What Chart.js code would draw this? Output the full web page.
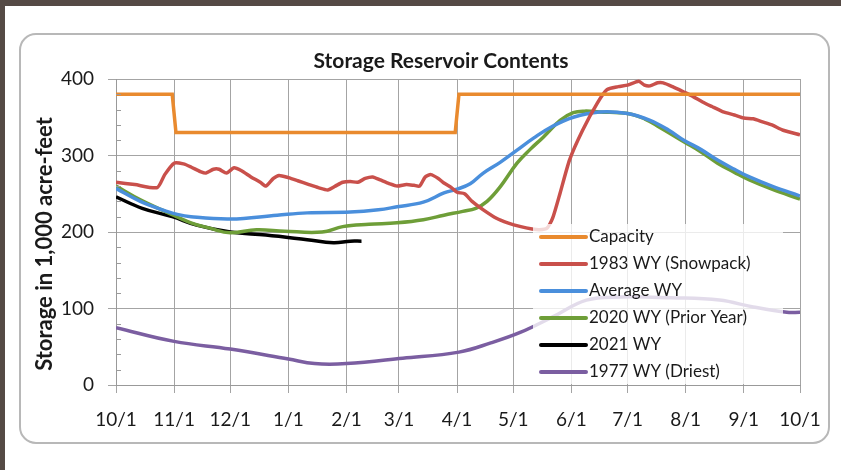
<!DOCTYPE html>
<html>
<head>
<meta charset="utf-8">
<script src="https://cdn.jsdelivr.net/npm/chart.js@4/dist/chart.umd.min.js"></script>
<style>
body{margin:0;background:#554a45;}
#wrap{position:absolute;left:0;top:0;width:841px;height:470px;}
</style>
</head>
<body>
<div id="wrap"><canvas id="grafico" width="841" height="470"></canvas></div>
<script>
// x values are days since 10/1
const monthDays = [0,31,61,92,123,151,182,212,243,273,304,335,365];
const monthLabels = ["10/1","11/1","12/1","1/1","2/1","3/1","4/1","5/1","6/1","7/1","8/1","9/1","10/1"];

const capDays = [0,30,32,181,183,365];
const capVals = [380,380,330,330,380,380];

const snowDays = [0,10,22,26,31,36,40,45,48,52,55,59,63,67,72,77,80,84,87,92,97,103,108,113,117,121,125,129,133,137,141,146,150,155,159,162,165,168,172,175,179,182,186,190,196,203,209,216,222,226,230,233,237,242,249,257,262,268,273,279,282,285,289,292,297,303,308,313,318,324,330,335,340,345,350,356,365];
const snowVals = [265,262,258,275,290,289,285,279,277,282,282,277,284,280,272,265,260,270,274,271,267,262,258,255,260,265,266,265,270,272,268,263,260,262,261,260,272,275,270,264,258,252,250,240,229,218,212,207,204,203,205,218,251,294,333,369,386,390,392,397,392,391,395,395,390,383,377,370,364,357,353,349,348,344,340,333,327];

const avgDays = [0,13,27,31,40,61,86,102,125,140,150,164,175,182,189,196,205,214,223,232,244,258,273,285,295,303,312,321,330,338,350,365];
const avgVals = [257,240,227,224,220,217,222,225,226,229,233,239,251,256,263,277,291,307,323,337,350,357,355,346,333,320,308,294,282,272,260,247];

const priorDays = [0,13,27,40,50,61,75,90,110,121,135,150,164,175,185,192,198,205,214,221,228,237,244,250,258,273,282,290,303,312,321,330,338,350,365];
const priorVals = [260,242,226,212,205,199,203,201,200,207,210,212,216,222,227,231,240,259,290,308,324,346,356,358,357,355,348,337,318,305,290,278,268,256,243];

const curDays = [0,14,30,43,61,80,102,116,125,131];
const curVals = [246,231,220,209,200,196,190,186,188,188];

const dryDays = [0,31,61,92,106,123,153,183,200,216,233,251,269,296,322,340,358,365];
const dryVals = [75,57,47,34,28,28,35,43,55,69,89,111,115,114,111,102,95,95];

const yMinor = [20,40,60,80,120,140,160,180,220,240,260,280,320,340,360,380];

function pts(d,v){ return d.map((x,i)=>({x:x,y:v[i]})); }

const series = [
  {label:"Capacity", days:capDays, vals:capVals, color:"#e98a2e", w:3.5, t:0},
  {label:"1983 WY (Snowpack)", days:snowDays, vals:snowVals, color:"#c9504b", w:3.5, t:0.2},
  {label:"Average WY", days:avgDays, vals:avgVals, color:"#4a8fdc", w:3.5, t:0.4},
  {label:"2020 WY (Prior Year)", days:priorDays, vals:priorVals, color:"#6e9e38", w:3.5, t:0.4},
  {label:"2021 WY", days:curDays, vals:curVals, color:"#000000", w:3.5, t:0.4},
  {label:"1977 WY (Driest)", days:dryDays, vals:dryVals, color:"#7b5ea1", w:3.5, t:0.4}
];

const frame = {
  id:"frame",
  beforeDraw(c){
    const x = c.ctx;
    x.save();
    x.fillStyle = "#554a45"; x.fillRect(0,0,841,470);
    x.fillStyle = "#ffffff"; x.fillRect(5,6,836,464);
    x.strokeStyle = "#b8b8b8"; x.lineWidth = 2;
    x.beginPath(); x.roundRect(20,34,809,409,16); x.stroke();
    // titles
    x.fillStyle = "#1a1a1a";
    x.textAlign = "center"; x.textBaseline = "middle";
    x.font = "bold 21px Lato";
    x.fillText("Storage Reservoir Contents", 441, 61);
    x.font = "bold 22px Lato";
    x.translate(45,244); x.rotate(-Math.PI/2);
    x.fillText("Storage in 1,000 acre-feet", 0, 0);
    x.restore();
  },
  afterDraw(c){
    // minor ticks on y axis
    const x = c.ctx, ys = c.scales.y, left = c.chartArea.left;
    x.save();
    x.strokeStyle = "#9a9a9a"; x.lineWidth = 1;
    yMinor.forEach(v=>{
      const p = Math.round(ys.getPixelForValue(v))+0.5;
      x.beginPath(); x.moveTo(left,p); x.lineTo(left+5,p); x.stroke();
    });
    x.restore();
  }
};

const legendBox = {
  id:"legendBox",
  afterDatasetsDraw(c){
    const x = c.ctx;
    x.save();
    x.fillStyle = "rgba(255,255,255,0.78)";
    x.fillRect(533,224,250,160);
    x.font = "17px Lato"; x.textBaseline = "middle"; x.textAlign = "left";
    x.lineCap = "round"; x.lineWidth = 4;
    series.forEach((s,i)=>{
      const y = 237 + i*27;
      x.strokeStyle = s.color;
      x.beginPath(); x.moveTo(541,y); x.lineTo(586,y); x.stroke();
      x.fillStyle = "#1a1a1a";
      x.fillText(s.label, 589, y);
    });
    x.restore();
  }
};

new Chart(document.getElementById("grafico"),{
type:"line",
data:{
datasets: series.map(s=>({
  label:s.label,
  data:pts(s.days,s.vals),
  borderColor:s.color,
  borderWidth:s.w,
  pointRadius:0,
  tension:s.t,
  fill:false
}))
},
options:{
responsive:false,
animation:false,
layout:{padding:{left:0,right:41,top:79,bottom:0}},
plugins:{legend:{display:false},tooltip:{enabled:false}},
scales:{
x:{
  type:"linear", min:0, max:365,
  afterBuildTicks(s){ s.ticks = monthDays.map(v=>({value:v})); },
  afterFit(s){ s.height = 85; },
  ticks:{callback:(v)=>monthLabels[monthDays.indexOf(v)], color:"#1a1a1a", font:{family:"Lato",size:19}, padding:15, maxRotation:0, autoSkip:false},
  grid:{color:"#a4a4a4", tickLength:8, lineWidth:1},
  border:{color:"#999999"}
},
y:{
  min:0, max:400,
  afterFit(s){ s.width = 116; },
  ticks:{stepSize:100, color:"#1a1a1a", font:{family:"Lato",size:19}, padding:14},
  grid:{color:"#a4a4a4", tickLength:8, lineWidth:1},
  border:{color:"#999999"}
}
}
},
plugins:[frame, legendBox]
});
</script>
</body>
</html>
